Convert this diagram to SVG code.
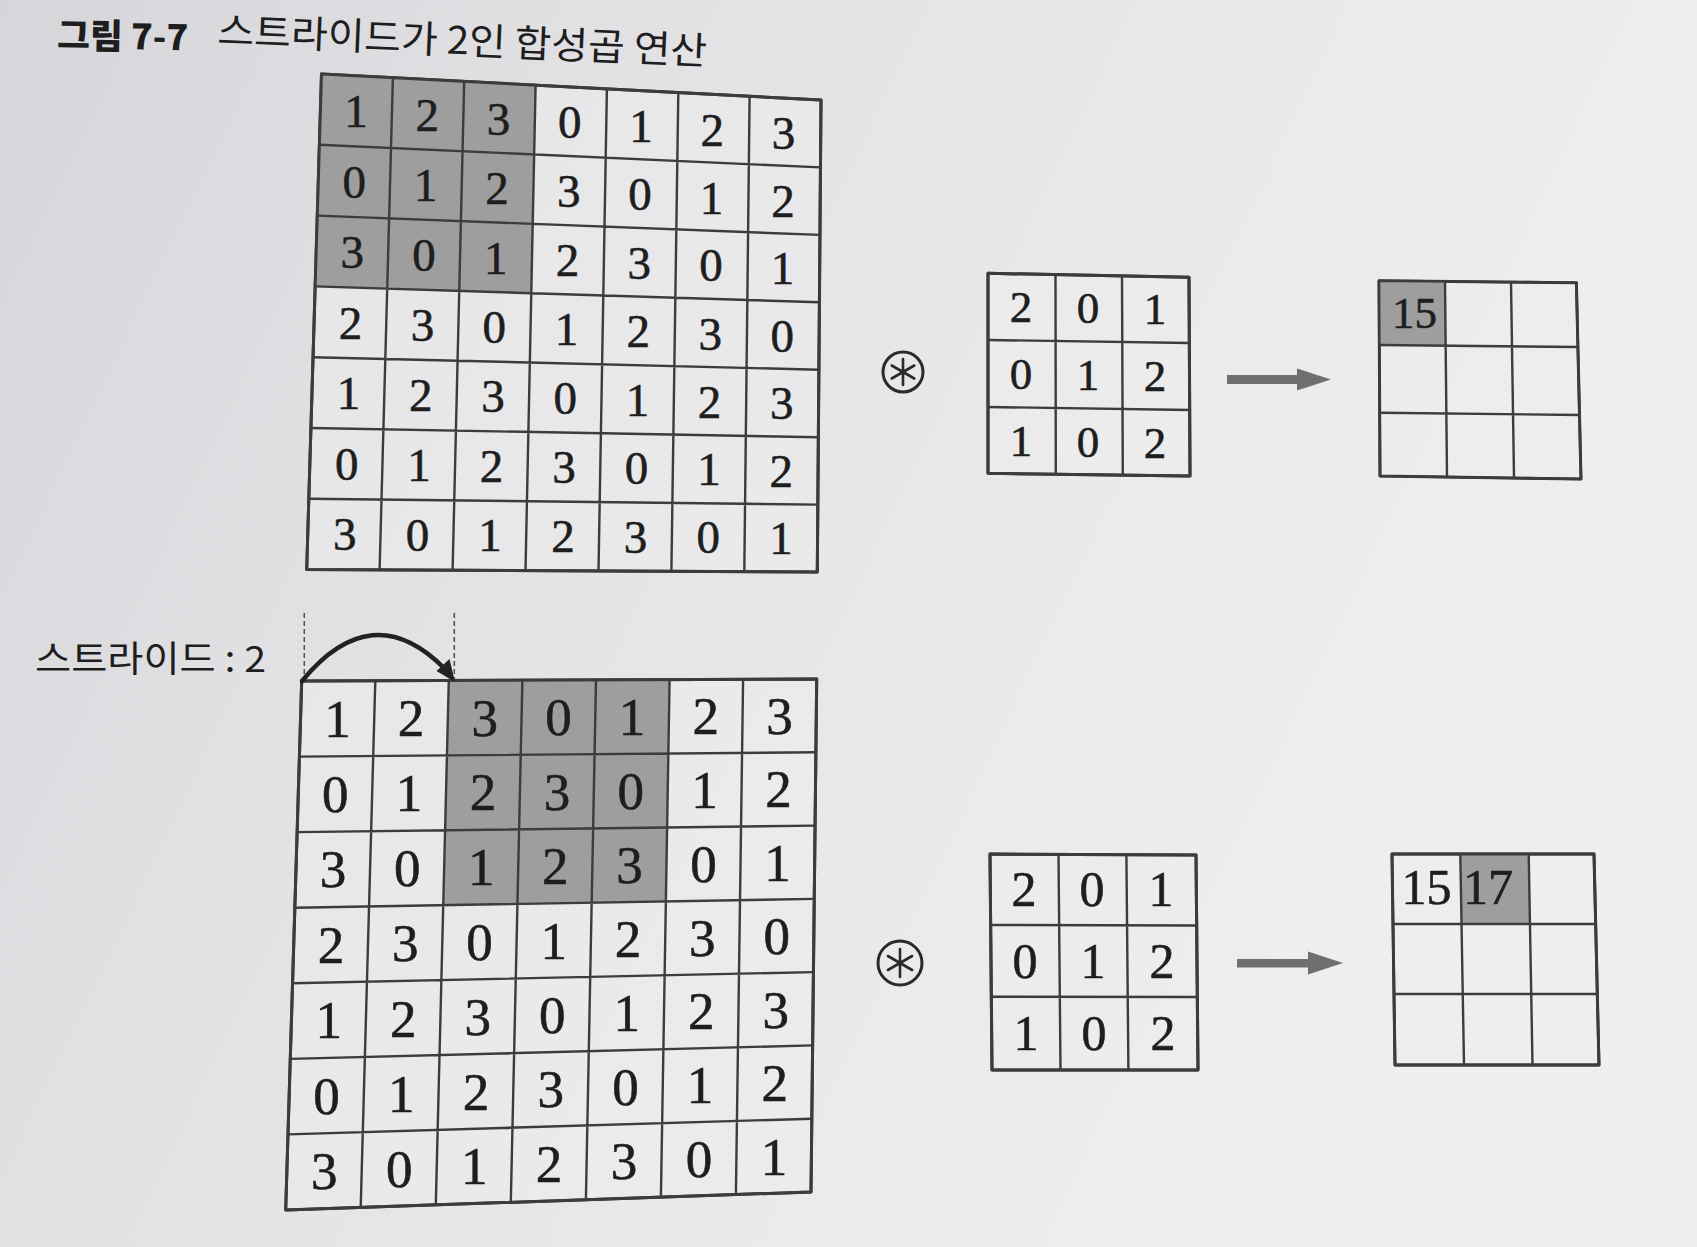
<svg xmlns="http://www.w3.org/2000/svg" width="1697" height="1247" viewBox="0 0 1697 1247">
<defs>
<linearGradient id="bg" x1="0" y1="0" x2="1" y2="0.35">
<stop offset="0" stop-color="#d6d6da"/>
<stop offset="0.35" stop-color="#e2e2e5"/>
<stop offset="0.7" stop-color="#eaeaec"/>
<stop offset="1" stop-color="#efefef"/>
</linearGradient>
<style>
.grid{fill:none;stroke:#3c3c3c;stroke-width:2.4;stroke-linejoin:round}
.outer{fill:#ececec;fill-opacity:0.55;stroke:#3a3a3a;stroke-width:3;stroke-linejoin:round}
.shade{fill:#9e9e9e;stroke:none}
.n{font-family:"Liberation Serif","DejaVu Serif",serif;fill:#1e1e1e;stroke:#1e1e1e;stroke-width:0.6;text-anchor:middle}
.t47{font-size:47px}
.t53{font-size:53px}
.t45{font-size:45px}
.t50{font-size:50px}
.ko{font-family:"Noto Sans CJK KR","Noto Sans",sans-serif;fill:#1e1e1e}
.dash{stroke:#555;stroke-width:1.6;stroke-dasharray:5 3;fill:none}
.garrow{fill:#6f6f6f}
</style>
</defs>
<rect x="0" y="0" width="1697" height="1247" fill="url(#bg)"/>

<g id="title">
<text class="ko" x="57" y="48" font-size="35" font-weight="900" textLength="131" lengthAdjust="spacingAndGlyphs" fill="#2a2a2a" transform="rotate(1 57 48)">그림 7-7</text>
<text class="ko" x="217" y="44" font-size="38" textLength="490" lengthAdjust="spacingAndGlyphs" transform="rotate(2.4 217 44)">스트라이드가 2인 합성곱 연산</text>
</g>

<g id="input-top">
<polygon class="outer" points="321.5,74 821,100 817.3,572 306.7,569.5"/>
<polygon class="shade" points="321.5,74 535.6,85.1 531.3,293.2 315.2,286.4"/>
<path class="grid" d="M392.9,77.7L379.6,569.9M464.2,81.4L452.6,570.2M535.6,85.1L525.5,570.6M606.9,88.9L598.5,570.9M678.3,92.6L671.4,571.3M749.6,96.3L744.3,571.6M319.4,144.8L820.5,167.4M317.3,215.6L819.9,234.9M315.2,286.4L819.4,302.3M313,357.2L818.9,369.7M310.9,428L818.4,437.2M308.8,498.7L817.8,504.6"/>
<polygon class="grid" style="stroke-width:3" points="321.5,74 821,100 817.3,572 306.7,569.5"/>
<g class="n t47">
<text x="356.1" y="127.4">1</text><text x="427.3" y="131.1">2</text><text x="498.5" y="134.6">3</text><text x="569.8" y="138.3">0</text><text x="641" y="141.9">1</text><text x="712.3" y="145.5">2</text><text x="783.5" y="149.1">3</text>
<text x="354.2" y="197.8">0</text><text x="425.6" y="201">1</text><text x="497.1" y="204.1">2</text><text x="568.7" y="207.2">3</text><text x="640.1" y="210.4">0</text><text x="711.6" y="213.5">1</text><text x="783.1" y="216.7">2</text>
<text x="352.3" y="268.2">3</text><text x="424" y="270.9">0</text><text x="495.7" y="273.5">1</text><text x="567.5" y="276.2">2</text><text x="639.2" y="278.9">3</text><text x="710.9" y="281.4">0</text><text x="782.6" y="284.1">1</text>
<text x="350.4" y="338.7">2</text><text x="422.4" y="340.9">3</text><text x="494.3" y="343">0</text><text x="566.4" y="345.2">1</text><text x="638.3" y="347.4">2</text><text x="710.2" y="349.5">3</text><text x="782.2" y="351.7">0</text>
<text x="348.5" y="409.1">1</text><text x="420.7" y="410.8">2</text><text x="492.9" y="412.4">3</text><text x="565.2" y="414.1">0</text><text x="637.4" y="415.8">1</text><text x="709.6" y="417.5">2</text><text x="781.8" y="419.2">3</text>
<text x="346.7" y="479.5">0</text><text x="419.1" y="480.7">1</text><text x="491.5" y="481.8">2</text><text x="564" y="483.1">3</text><text x="636.5" y="484.3">0</text><text x="708.9" y="485.4">1</text><text x="781.3" y="486.7">2</text>
<text x="344.8" y="549.9">3</text><text x="417.5" y="550.6">0</text><text x="490.1" y="551.3">1</text><text x="562.9" y="552">2</text><text x="635.6" y="552.8">3</text><text x="708.2" y="553.4">0</text><text x="780.9" y="554.2">1</text>
</g>
</g>

<g id="op-top">
<circle cx="903" cy="372" r="20" fill="none" stroke="#2a2a2a" stroke-width="3"/>
<path d="M903,359V385M891.7,365.5L914.3,378.5M891.7,378.5L914.3,365.5" stroke="#2a2a2a" stroke-width="2.6" stroke-linecap="round"/>
</g>

<g id="kernel-top">
<polygon class="outer" points="988,273.3 1189,277.3 1190,476 988,473.3"/>
<path class="grid" d="M1055.5,274.6L1055.8,474.2M1122,276L1122.8,475M988,340L1189.3,343M988,407L1189.7,410"/>
<polygon class="grid" style="stroke-width:3" points="988,273.3 1189,277.3 1190,476 988,473.3"/>
<g class="n t45">
<text x="1021" y="322">2</text><text x="1088" y="323">0</text><text x="1155" y="324">1</text>
<text x="1021" y="389">0</text><text x="1088" y="390">1</text><text x="1155" y="391">2</text>
<text x="1021" y="456">1</text><text x="1088" y="457">0</text><text x="1155" y="458">2</text>
</g>
</g>

<g id="output-top">
<polygon class="outer" points="1379,280.7 1576.4,282.7 1581,479 1380,476"/>
<polygon class="shade" points="1379,280.7 1445,281.4 1446,345.7 1379.3,345"/>
<path class="grid" d="M1445,281.4L1447,477M1511,282L1514,477.8M1379.3,345L1578,347M1379.7,412.7L1579.6,415"/>
<polygon class="grid" style="stroke-width:2.6" points="1379,280.7 1576.4,282.7 1581,479 1380,476"/>
<text class="n t45" x="1414.5" y="328">15</text>
</g>

<g id="stride-label">
<text class="ko" x="35" y="672" font-size="36" textLength="231" lengthAdjust="spacingAndGlyphs">스트라이드 : 2</text>
</g>

<g id="input-bottom">
<polygon class="outer" points="301.7,681 816.7,679 811,1192 285.7,1210"/>
<polygon class="shade" points="448.8,680.4 669.6,679.6 665.9,901.4 443.2,905.2"/>
<path class="grid" d="M375.3,680.7L360.7,1207.4M448.8,680.4L435.8,1204.9M522.4,680.1L510.8,1202.3M596,679.9L585.9,1199.7M669.6,679.6L660.9,1197.1M743.1,679.3L735.9,1194.6M299.4,756.6L815.9,752.3M297.1,832.1L815.1,825.6M294.8,907.7L814.3,898.9M292.6,983.3L813.4,972.1M290.3,1058.9L812.6,1045.4M288,1134.4L811.8,1118.7"/>
<polygon class="grid" style="stroke-width:3" points="301.7,681 816.7,679 811,1192 285.7,1210"/>
<g class="n t53">
<text x="337.4" y="736.6">1</text><text x="411.1" y="736.1">2</text><text x="484.7" y="735.7">3</text><text x="558.4" y="735.2">0</text><text x="632.1" y="734.7">1</text><text x="705.7" y="734.3">2</text><text x="779.4" y="733.8">3</text>
<text x="335.2" y="812">0</text><text x="409.1" y="811.2">1</text><text x="483" y="810.4">2</text><text x="556.9" y="809.6">3</text><text x="630.8" y="808.9">0</text><text x="704.6" y="808.1">1</text><text x="778.5" y="807.3">2</text>
<text x="333" y="887.4">3</text><text x="407.2" y="886.3">0</text><text x="481.2" y="885.2">1</text><text x="555.3" y="884.1">2</text><text x="629.5" y="882.9">3</text><text x="703.5" y="881.8">0</text><text x="777.6" y="880.7">1</text>
<text x="330.9" y="962.9">2</text><text x="405.2" y="961.4">3</text><text x="479.4" y="960">0</text><text x="553.8" y="958.5">1</text><text x="628.1" y="957.1">2</text><text x="702.3" y="955.6">3</text><text x="776.7" y="954.2">0</text>
<text x="328.7" y="1038.3">1</text><text x="403.2" y="1036.5">2</text><text x="477.7" y="1034.7">3</text><text x="552.2" y="1032.9">0</text><text x="626.8" y="1031.2">1</text><text x="701.2" y="1029.4">2</text><text x="775.8" y="1027.6">3</text>
<text x="326.5" y="1113.7">0</text><text x="401.3" y="1111.6">1</text><text x="475.9" y="1109.5">2</text><text x="550.7" y="1107.4">3</text><text x="625.4" y="1105.2">0</text><text x="700.1" y="1103.1">1</text><text x="774.8" y="1101">2</text>
<text x="324.3" y="1189.1">3</text><text x="399.3" y="1186.7">0</text><text x="474.2" y="1184.2">1</text><text x="549.1" y="1181.8">2</text><text x="624.1" y="1179.4">3</text><text x="699" y="1176.9">0</text><text x="773.9" y="1174.5">1</text>
</g>
</g>

<g id="op-bottom">
<circle cx="900" cy="963" r="22" fill="none" stroke="#2a2a2a" stroke-width="3"/>
<path d="M900,949V977M887.9,956L912.1,970M887.9,970L912.1,956" stroke="#2a2a2a" stroke-width="2.6" stroke-linecap="round"/>
</g>

<g id="kernel-bottom">
<polygon class="outer" points="990,854 1196,855 1198,1070 992,1070"/>
<path class="grid" d="M1058.5,854.3L1060.5,1070M1126.4,854.7L1128.4,1070M990.8,925L1196.7,925.5M991.4,996.7L1197.3,997"/>
<polygon class="grid" style="stroke-width:3" points="990,854 1196,855 1198,1070 992,1070"/>
<g class="n t50">
<text x="1024" y="906">2</text><text x="1092" y="906">0</text><text x="1161" y="906">1</text>
<text x="1025" y="978">0</text><text x="1093" y="978">1</text><text x="1162" y="978">2</text>
<text x="1026" y="1050">1</text><text x="1094" y="1050">0</text><text x="1163" y="1050">2</text>
</g>
</g>

<g id="output-bottom">
<polygon class="outer" points="1392,854 1594,854 1599,1065 1395,1065"/>
<polygon class="shade" points="1460.3,854 1528.7,854 1529.8,924 1461.5,924"/>
<path class="grid" d="M1460.3,854L1464,1065M1528.7,854L1532.5,1065M1393,924L1595.7,924M1394,994L1597.4,994"/>
<polygon class="grid" style="stroke-width:2.8" points="1392,854 1594,854 1599,1065 1395,1065"/>
<text class="n t50" x="1426.5" y="904">15</text>
<text class="n t50" x="1488" y="904">17</text>
</g>

<g id="connectors">
<rect class="garrow" x="1227" y="375" width="73" height="9"/>
<polygon class="garrow" points="1297,368.5 1331,379.5 1297,390.5"/>
<rect class="garrow" x="1237" y="959" width="74" height="8.5"/>
<polygon class="garrow" points="1308,951.5 1343,963 1308,974.5"/>
<line class="dash" x1="304.3" y1="613" x2="304.3" y2="681"/>
<line class="dash" x1="454.3" y1="613" x2="454.3" y2="681"/>
<path d="M302,681 Q372,596 444,668" fill="none" stroke="#222" stroke-width="4.5" stroke-linecap="round"/>
<polygon points="455,682 436.5,671 449.5,659" fill="#222"/>
</g>
</svg>
